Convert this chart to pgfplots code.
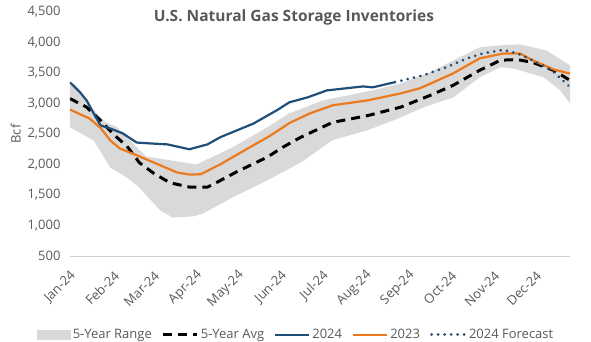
\documentclass[border=0pt]{standalone}
\usepackage{pgfplots}
\pgfplotsset{compat=1.18}
\usepackage{fontspec}
\setmainfont{Open Sans}
\definecolor{txt}{HTML}{595959}
\definecolor{c24}{HTML}{1F4E79}
\definecolor{c23}{HTML}{EB7A1E}
\definecolor{band}{HTML}{D9D9D9}
\definecolor{axl}{HTML}{D0D0D0}
\begin{document}
\begin{tikzpicture}
\path[use as bounding box] (-70bp,-86bp) rectangle (521bp,256bp);
\begin{axis}[
  at={(0,0)}, anchor=south west,
  scale only axis, width=500bp, height=244bp,
  xmin=0, xmax=360, ymin=500, ymax=4500,
  ytick={500,1000,...,4500},
  xtick={0,31,60,91,121,152,182,213,244,274,305,335},
  xticklabels={Jan-24,Feb-24,Mar-24,Apr-24,May-24,Jun-24,Jul-24,Aug-24,Sep-24,Oct-24,Nov-24,Dec-24},
  axis lines*=left,
  y axis line style={draw=none},
  x axis line style={draw=axl, line width=1bp, -},
  major tick length=0pt,
  tick style={draw=none},
  /pgf/number format/assume math mode=true,
  yticklabel style={/pgf/number format/.cd, 1000 sep={,}, /tikz/.cd, font=\fontsize{13bp}{15bp}\selectfont, text=txt, xshift=-6bp},
  xticklabel style={xshift=6bp, yshift=-15bp, rotate=45, anchor=east, font=\fontsize{13bp}{15bp}\selectfont, text=txt},
  ylabel={Bcf},
  ylabel style={font=\fontsize{13bp}{15bp}\selectfont, text=txt},
  title={U.S. Natural Gas Storage Inventories},
  title style={at={(0.448,0.955)}, anchor=center, font=\fontsize{15.5bp}{18bp}\selectfont\bfseries, text=txt},
  legend columns=-1,
  legend style={at={(0.452,-0.323)}, anchor=center, draw=none, fill=none,
    font=\fontsize{13bp}{15bp}\selectfont, text=txt,
    /tikz/every even column/.append style={column sep=8bp},
    /tikz/every odd column/.append style={column sep=0bp}},
  legend image code/.code={\draw[#1] (0bp,0bp) -- (34bp,0bp);},
]
\addplot[fill=band, draw=none, area legend,
  legend image code/.code={\fill[band] (0bp,-5bp) rectangle (34bp,5bp);}]
  coordinates {
  (0,3350)(7,3200)(17,2900)(25,2700)(34,2610)(41,2445)(55,2130)(72,2070)(91,2000)(117,2280)(142,2610)(158,2840)(182,3050)(218,3215)(238,3330)(259,3510)(279,3740)(295,3920)(307,3950)(324,3970)(343,3870)(360,3625)
  (360,3000)(353,3215)(341,3430)(329,3510)(319,3575)(310,3595)(295,3430)(276,3100)(256,2950)(233,2725)(214,2560)(189,2400)(166,2030)(142,1740)(117,1460)(96,1200)(89,1150)(74,1130)(65,1245)(50,1620)(41,1785)(29,1950)(17,2395)(0,2610)
  } -- cycle;
\addlegendentry{5-Year Range}
\addplot[black, line width=3bp, dash pattern=on 9bp off 6bp] coordinates {
  (0,3080)(12,2940)(22,2720)(32,2480)(41,2300)(50,2030)(60,1860)(72,1700)(86,1630)(99,1630)(106,1710)(120,1880)(142,2120)(153,2280)(166,2445)(189,2690)(214,2800)(238,2940)(259,3130)(276,3300)(295,3545)(310,3710)(322,3720)(333,3675)(348,3545)(360,3380)
};
\addlegendentry{5-Year Avg}
\addplot[c24, line width=2.2bp] coordinates {
  (0,3347)(7,3190)(12,3050)(17,2840)(22,2640)(29,2590)(38,2510)(48,2360)(58,2345)(70,2330)(86,2250)(99,2330)(108,2445)(117,2530)(132,2670)(149,2890)(158,3020)(171,3100)(185,3215)(211,3280)(218,3265)(234,3350)
};
\addlegendentry{2024}
\addplot[c23, line width=2.2bp] coordinates {
  (0,2900)(14,2755)(22,2600)(29,2395)(36,2260)(45,2180)(60,2035)(77,1870)(86,1835)(94,1840)(108,2000)(127,2250)(144,2470)(158,2680)(173,2840)(189,2970)(214,3050)(238,3165)(252,3250)(276,3495)(295,3740)(312,3820)(324,3820)(333,3710)(348,3560)(360,3490)
};
\addlegendentry{2023}
\addplot[c24, line width=3bp, line cap=round, dash pattern=on 0.01bp off 6.5bp] coordinates {
  (234,3350)(254,3460)(271,3595)(286,3740)(297,3820)(312,3880)(322,3820)(331,3730)(346,3560)(360,3270)
};
\addlegendentry{2024 Forecast}
\end{axis}
\end{tikzpicture}
\end{document}
